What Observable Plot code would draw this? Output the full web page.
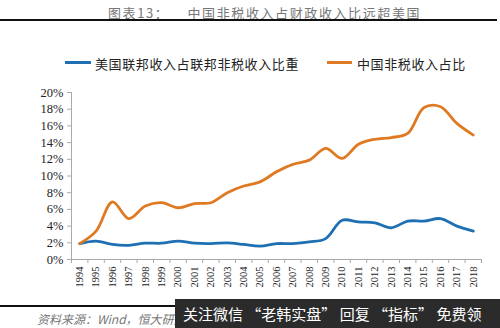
<!DOCTYPE html>
<html>
<head>
<meta charset="utf-8">
<script src="https://cdn.jsdelivr.net/npm/d3@7"></script>
<script src="https://cdn.jsdelivr.net/npm/@observablehq/plot@0.6"></script>
<style>
  html, body { margin: 0; padding: 0; background: #fff; }
  #root { position: relative; width: 500px; height: 328px; overflow: hidden; background: #fff; }
  .abs { position: absolute; white-space: nowrap; }
  #title { left: 108px; top: 3px; font-family: "Noto Sans CJK SC", sans-serif; font-size: 13px; color: #777; letter-spacing: 1.6px; }
  #topline { left: 0; top: 19px; width: 497px; height: 2px; background: #111; }
  .leg { top: 54px; font-family: "Noto Sans CJK SC", serif; font-size: 13px; color: #222; letter-spacing: 0.6px; font-weight: 400; }
  .sw { top: 61px; height: 3px; }
  #chart { left: 0; top: 80px; }
  #botline { left: 0; top: 305px; width: 497px; height: 2px; background: #111; }
  #source { left: 37px; top: 310px; font-family: "Noto Sans CJK SC", serif; font-style: italic; font-size: 12px; color: #777; }
  #wm { left: 175px; top: 299px; width: 325px; height: 29px; background: #2b2b2b; color: #fff; font-family: "Noto Sans CJK SC", sans-serif; font-size: 15px; line-height: 29px; padding-left: 8px; box-sizing: border-box; letter-spacing: 0px; }
</style>
</head>
<body>
<div id="root">
  <div id="title" class="abs">图表13：&nbsp;&nbsp;&nbsp;&nbsp;中国非税收入占财政收入比远超美国</div>
  <div id="topline" class="abs"></div>
  <div class="abs sw" style="left:65px;width:26px;background:#1f6fb3"></div>
  <div class="abs leg" style="left:95px">美国联邦收入占联邦非税收入比重</div>
  <div class="abs sw" style="left:327px;width:25px;background:#e07a22"></div>
  <div class="abs leg" style="left:357px">中国非税收入占比</div>
  <div id="chart" class="abs"></div>
  <div id="botline" class="abs"></div>
  <div id="source" class="abs">资料来源：Wind，恒大研究院</div>
  <div id="wm" class="abs">关注微信 “老韩实盘” 回复 “指标” 免费领</div>
</div>
<script>
const years = [1994,1995,1996,1997,1998,1999,2000,2001,2002,2003,2004,2005,2006,2007,2008,2009,2010,2011,2012,2013,2014,2015,2016,2017,2018];
const usShare = [1.9,2.2,1.8,1.7,1.95,1.95,2.2,1.95,1.9,2.0,1.8,1.6,1.9,1.9,2.1,2.5,4.7,4.5,4.4,3.8,4.6,4.6,4.9,4.0,3.4];
const chinaShare = [1.9,3.4,6.9,4.9,6.4,6.8,6.2,6.7,6.8,8.0,8.8,9.3,10.5,11.4,11.9,13.3,12.1,13.8,14.4,14.6,15.1,18.2,18.3,16.3,14.9];
const yTicks = [0,2,4,6,8,10,12,14,16,18,20];
const seriesUS = "美国联邦收入占联邦非税收入比重";
const seriesCN = "中国非税收入占比";

const us = years.map((y, i) => ({year: y, value: usShare[i]}));
const cn = years.map((y, i) => ({year: y, value: chinaShare[i]}));
const xDomain = [years[0] - 0.5, years[years.length - 1] + 0.5];
const boundaries = d3.range(xDomain[0], xDomain[1] + 0.01, 1);

const chart = Plot.plot({
  width: 500,
  height: 215,
  marginTop: 12,
  marginBottom: 36,
  marginLeft: 71,
  marginRight: 19,
  style: {fontFamily: "'Liberation Serif', 'Times New Roman', serif", background: "transparent"},
  x: {type: "linear", domain: xDomain},
  y: {domain: [0, 20]},
  marks: [
    Plot.ruleY([0], {stroke: "#aaa"}),
    Plot.ruleX([xDomain[0]], {stroke: "#aaa"}),
    Plot.axisY({ticks: yTicks, tickFormat: d => d + "%", tickSize: 4, tickPadding: 4, stroke: "#aaa", fill: "#222", fontSize: 12.5, label: null}),
    Plot.axisX({ticks: years, tickFormat: d => String(d), tickSize: 0, tickPadding: 7, tickRotate: -90, fill: "#222", fontSize: 10.5, label: null}),
    Plot.axisX({ticks: boundaries, tickSize: 4, text: null, stroke: "#aaa", label: null}),
    Plot.line(us, {x: "year", y: "value", stroke: "#1f6fb3", strokeWidth: 2.8, curve: "catmull-rom"}),
    Plot.line(cn, {x: "year", y: "value", stroke: "#e07a22", strokeWidth: 2.8, curve: "catmull-rom"})
  ]
});
document.getElementById("chart").appendChild(chart);
</script>
</body>
</html>
